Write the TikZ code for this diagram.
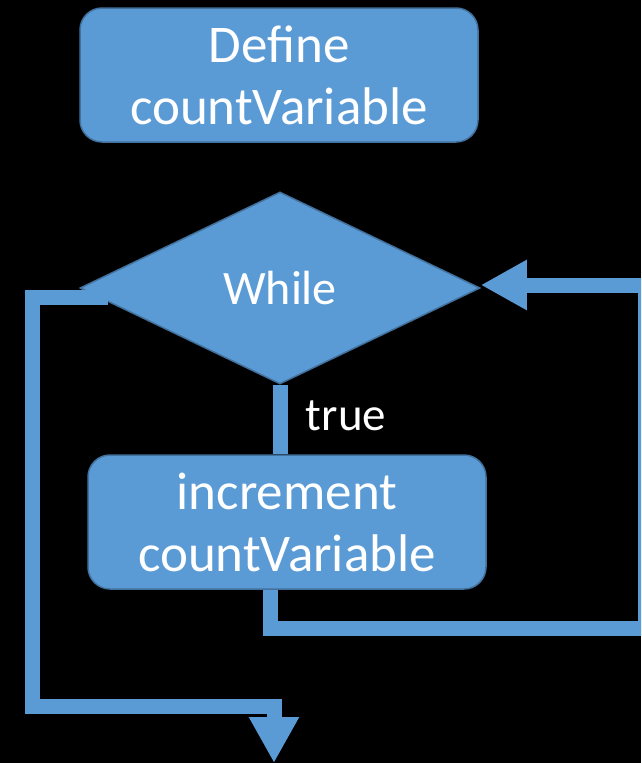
\documentclass[tikz,border=0pt]{standalone}
\usepackage{fontspec}
\setmainfont{Carlito}
\usetikzlibrary{shapes.geometric,arrows.meta}
\definecolor{flowblue}{HTML}{5B9BD5}
\definecolor{edgeblue}{HTML}{41719C}
\begin{document}
\begin{tikzpicture}[x=1pt,y=-1pt,
    box/.style={rectangle, rounded corners=22pt, fill=flowblue, draw=edgeblue, line width=1.5pt,
      minimum width=398pt, minimum height=134pt, align=center, text=white,
      font=\fontsize{53}{62}\selectfont},
    decision/.style={diamond, fill=flowblue, draw=edgeblue, line width=1.5pt,
      minimum width=400pt, minimum height=192pt, inner sep=0pt, text=white,
      font=\fontsize{48}{56}\selectfont},
    flow/.style={draw=flowblue, line width=15pt, line join=miter},
    tip/.style={-{Triangle[length=46pt,width=47pt]}}]
                        \fill[black] (0,0) rectangle (641,763);
                        \clip (0,0) rectangle (641,763);

                        \node (define) at (279, 75) [box] {Define\\countVariable};
                        \node (while) at (280, 288) [decision] {While};
                        \node (incr) at (287, 522) [box] {increment\\countVariable};
                        \node (truelbl) at (346, 416) [text=white, font=\fontsize{47}{56}\selectfont] {true};

                        \coordinate (loopa) at (270, 628);
                        \coordinate (loopb) at (645, 628);
                        \coordinate (loopc) at (645, 285);
                        \coordinate (exitin) at (108, 297);
                        \coordinate (exita) at (32, 297);
                        \coordinate (exitb) at (32, 706);
                        \coordinate (exitc) at (274, 706);
                        \coordinate (exit) at (274, 763);

                        \draw[flow] (while.south) -- (incr.north -| while.south);
                        \draw[flow, tip] (incr.south -| loopa) -- (loopa) -- (loopb) -- (loopc) -- (while.east |- loopc);
                        \draw[flow, tip] (exitin) -- (exita) -- (exitb) -- (exitc) -- (exit);
                    \end{tikzpicture}
\end{document}
